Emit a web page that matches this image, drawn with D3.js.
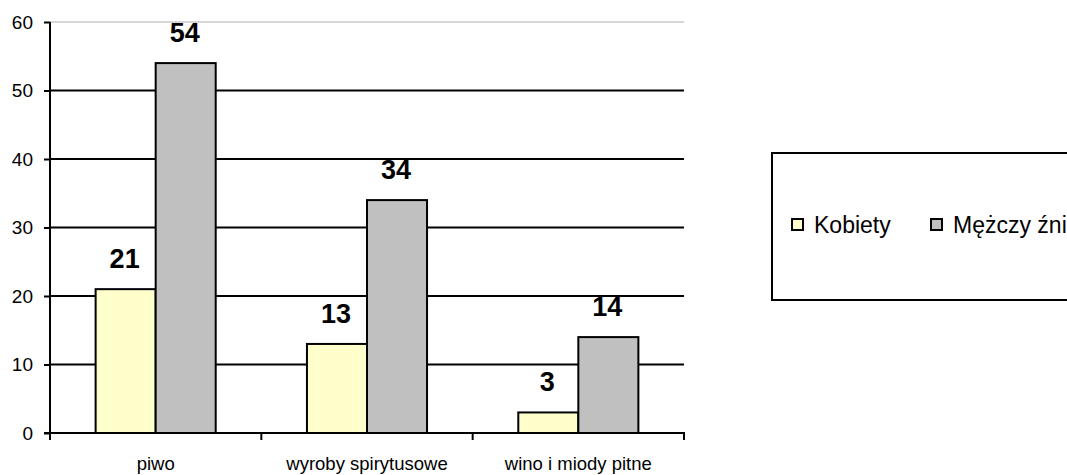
<!DOCTYPE html>
<html><head><meta charset="utf-8">
<script src="https://cdn.jsdelivr.net/npm/d3@7"></script>
<style>body{margin:0;background:#fff}svg{display:block}text{font-family:"Liberation Sans",Arial,sans-serif}</style>
</head><body>
<svg id="c" width="1067" height="475"></svg>
<script>
const categories = ["piwo", "wyroby spirytusowe", "wino i miody pitne"];
const seriesNames = ["Kobiety", "Mężczy źni"];
const kobiety = [21, 13, 3];
const mezczyzni = [54, 34, 14];
const yTicks = [0, 10, 20, 30, 40, 50, 60];
const colors = ["#ffffcc", "#c0c0c0"];

const svg = d3.select("#c");
const x = d3.scaleBand().domain(categories).range([50, 684]).padding(0);
const x1 = d3.scaleBand().domain(seriesNames).range([0, x.bandwidth()]).paddingInner(0).paddingOuter(0.76);
const y = d3.scaleLinear().domain([0, 60]).range([433, 22]);

// gridlines
svg.append("g").selectAll("line").data(yTicks.filter(d => d > 0)).join("line")
  .attr("x1", 50).attr("x2", 684)
  .attr("y1", d => y(d)).attr("y2", d => y(d))
  .attr("stroke", d => d === 60 ? "#c8c8c8" : "#000")
  .attr("stroke-width", d => d === 60 ? 1.5 : 2);

const data = categories.map((c, i) => ({c, vals: [kobiety[i], mezczyzni[i]]}));
const g = svg.append("g").selectAll("g").data(data).join("g")
  .attr("transform", d => `translate(${x(d.c)},0)`);
g.selectAll("rect").data(d => d.vals.map((v, j) => ({v, s: seriesNames[j], j}))).join("rect")
  .attr("x", d => x1(d.s)).attr("width", x1.bandwidth())
  .attr("y", d => y(d.v)).attr("height", d => y(0) - y(d.v))
  .attr("fill", d => colors[d.j]).attr("stroke", "#000").attr("stroke-width", 2);
g.selectAll("text").data(d => d.vals.map((v, j) => ({v, s: seriesNames[j]}))).join("text")
  .attr("x", d => x1(d.s) + x1.bandwidth() / 2 - 1)
  .attr("y", d => y(d.v) - 21)
  .attr("text-anchor", "middle").attr("font-size", 27).attr("font-weight", "bold")
  .text(d => d.v);

// y axis
const ya = svg.append("g").attr("transform", "translate(50,0)")
  .call(d3.axisLeft(y).tickValues(yTicks).tickSize(6).tickPadding(11));
ya.select(".domain").attr("stroke", "#000").attr("stroke-width", 2).attr("d", `M0,${y(60)}V${y(0)}`);
ya.selectAll(".tick line").attr("stroke", "#000").attr("stroke-width", 2);
ya.selectAll(".tick text").attr("font-size", 19).attr("fill", "#000").attr("font-family", "Liberation Sans, Arial, sans-serif");

// x axis
svg.append("line").attr("x1", 44).attr("x2", 685).attr("y1", y(0)).attr("y2", y(0)).attr("stroke", "#000").attr("stroke-width", 2);
const xt = categories.map(c => x(c)).concat([x(categories[2]) + x.bandwidth()]);
svg.append("g").selectAll("line").data(xt).join("line")
  .attr("x1", d => d).attr("x2", d => d).attr("y1", y(0)).attr("y2", y(0) + 7)
  .attr("stroke", "#000").attr("stroke-width", 2);
svg.append("g").selectAll("text").data(categories).join("text")
  .attr("x", d => x(d) + x.bandwidth() / 2).attr("y", 470)
  .attr("text-anchor", "middle").attr("font-size", 18.5).text(d => d);

// legend
svg.append("rect").attr("x", 772).attr("y", 153).attr("width", 320).attr("height", 147)
  .attr("fill", "#fff").attr("stroke", "#000").attr("stroke-width", 2);
const lx = [792, 931];
const lg = svg.append("g").selectAll("g").data(seriesNames).join("g")
  .attr("transform", (d, i) => `translate(${lx[i]},219)`);
lg.append("rect").attr("width", 11).attr("height", 11).attr("fill", (d, i) => colors[i])
  .attr("stroke", "#000").attr("stroke-width", 2);
lg.append("text").attr("x", 22).attr("y", 14).attr("font-size", 23).text(d => d);
</script>
</body></html>
